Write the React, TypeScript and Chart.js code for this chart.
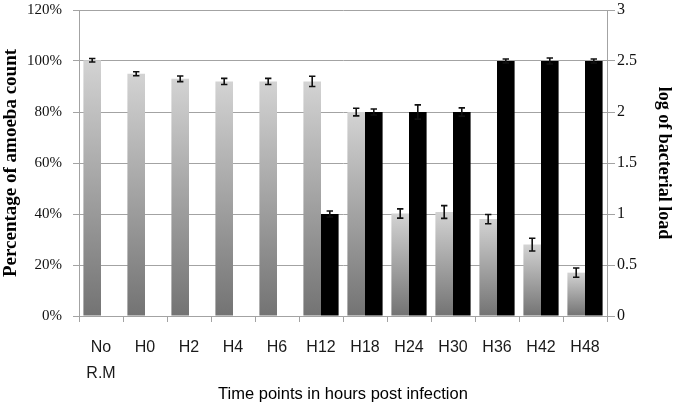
import React, { useEffect, useRef } from "react";
import { Chart, registerables } from "chart.js";

Chart.register(...registerables);

const categories: (string | string[])[] = [
  ["No", "R.M"], "H0", "H2", "H4", "H6", "H12", "H18", "H24", "H30", "H36", "H42", "H48",
];
const amoebaPercent: number[] = [100.3, 95, 93, 92, 92, 92, 80, 40.2, 40.8, 38, 28, 17];
const amoebaError: number[] = [0.7, 0.8, 1.1, 1.2, 1.2, 2.0, 1.5, 1.8, 2.5, 1.8, 2.5, 1.8];
const bacterialLog: (number | null)[] = [null, null, null, null, null, 1.0, 2.0, 2.0, 2.0, 2.5, 2.5, 2.5];
const bacterialError: (number | null)[] = [null, null, null, null, null, 0.03, 0.03, 0.07, 0.04, 0.02, 0.03, 0.02];
const leftTicks: number[] = [0, 20, 40, 60, 80, 100, 120];
const rightTicks: number[] = [0, 0.5, 1, 1.5, 2, 2.5, 3];

const GRID = "#a3a3a3";
const SANS = "'Liberation Sans', Arial, sans-serif";
const SERIF = "'Liberation Serif', 'Times New Roman', serif";

const errorBarPlugin = {
  id: "errorBars",
  afterDatasetsDraw(chart: any) {
    const ctx = chart.ctx;
    chart.data.datasets.forEach((ds: any, i: number) => {
      const errs = ds.errors as (number | null)[];
      if (!errs) return;
      const meta = chart.getDatasetMeta(i);
      const scale = chart.scales[ds.yAxisID];
      meta.data.forEach((el: any, j: number) => {
        const v = ds.data[j];
        const e = errs[j];
        if (v == null || e == null) return;
        const x = el.x;
        const yTop = scale.getPixelForValue(v + e);
        const yBot = scale.getPixelForValue(v - e);
        const cap = 3.2;
        ctx.save();
        ctx.strokeStyle = "#111";
        ctx.lineWidth = 1.6;
        ctx.beginPath();
        ctx.moveTo(x, yTop);
        ctx.lineTo(x, yBot);
        ctx.moveTo(x - cap, yTop);
        ctx.lineTo(x + cap, yTop);
        ctx.moveTo(x - cap, yBot);
        ctx.lineTo(x + cap, yBot);
        ctx.stroke();
        ctx.restore();
      });
    });
  },
};

export default function App() {
  const ref = useRef<HTMLCanvasElement | null>(null);
  useEffect(() => {
    if (!ref.current) return;
    const chart = new Chart(ref.current, {
      type: "bar",
      data: {
        labels: categories,
        datasets: [
          {
            label: "Percentage of amoeba count",
            data: amoebaPercent,
            errors: amoebaError,
            yAxisID: "y",
            backgroundColor: (c: any) => {
              const ch = c.chart;
              if (!ch.chartArea || c.raw == null) return "#a8a8a8";
              const s = ch.scales.y;
              const y1 = s.getPixelForValue(c.raw);
              const y0 = s.getPixelForValue(0);
              const g = ch.ctx.createLinearGradient(0, y1, 0, y0);
              g.addColorStop(0, "#d3d3d3");
              g.addColorStop(1, "#737373");
              return g;
            },
            borderWidth: 0,
            categoryPercentage: 0.8,
            barPercentage: 1.0,
          } as any,
          {
            label: "log of bacterial load",
            data: bacterialLog,
            errors: bacterialError,
            yAxisID: "y1",
            backgroundColor: "#000000",
            borderWidth: 0,
            categoryPercentage: 0.8,
            barPercentage: 1.0,
          } as any,
        ],
      },
      options: {
        animation: false,
        responsive: false,
        maintainAspectRatio: false,
        layout: { padding: { top: 10, left: 0, right: 0, bottom: 0 } },
        plugins: { legend: { display: false }, tooltip: { enabled: false } },
        scales: {
          x: {
            grid: {
              offset: true,
              drawOnChartArea: false,
              drawTicks: true,
              tickLength: 6,
              color: GRID,
            },
            border: { color: GRID },
            ticks: {
              color: "#1a1a1a",
              padding: 13,
              font: { family: SANS, size: 16, lineHeight: 1.6 },
              maxRotation: 0,
              autoSkip: false,
            },
            title: {
              display: true,
              text: "Time points in hours post infection",
              color: "#000",
              font: { family: SANS, size: 16.5, lineHeight: 0.9 },
              padding: { top: 0, bottom: 0 },
            },
            afterFit(s: any) {
              s.height = 86;
              s.paddingLeft = 0;
              s.paddingRight = 0;
            },
          },
          y: {
            position: "left",
            min: 0,
            max: 120,
            afterBuildTicks(s: any) {
              s.ticks = leftTicks.map((v) => ({ value: v }));
            },
            grid: { color: GRID, tickLength: 6, lineWidth: 1 },
            border: { color: GRID },
            ticks: {
              color: "#111",
              padding: 11,
              font: { family: SERIF, size: 15 },
              callback: (v: any) => `${v}%`,
            },
            title: {
              display: true,
              text: "Percentage of amoeba count",
              color: "#000",
              font: { family: SERIF, size: 19, weight: "bold", lineHeight: 1.15 },
              padding: { top: 0, bottom: 0 },
            },
            afterFit(s: any) {
              s.width = 79;
              s.paddingTop = 0;
              s.paddingBottom = 0;
            },
          },
          y1: {
            position: "right",
            min: 0,
            max: 3,
            afterBuildTicks(s: any) {
              s.ticks = rightTicks.map((v) => ({ value: v }));
            },
            grid: { drawOnChartArea: false, color: GRID, tickLength: 8 },
            border: { color: GRID },
            ticks: {
              color: "#111",
              padding: 2,
              font: { family: SERIF, size: 16 },
              callback: (v: any) => `${v}`,
            },
            title: {
              display: true,
              text: "log of bacterial load",
              color: "#000",
              font: { family: SERIF, size: 18, weight: "bold", lineHeight: 1.2 },
              padding: { top: 6, bottom: 0 },
            },
            afterFit(s: any) {
              s.width = 73;
              s.paddingTop = 0;
              s.paddingBottom = 0;
            },
          },
        },
      } as any,
      plugins: [errorBarPlugin],
    });
    return () => chart.destroy();
  }, []);
  return (
    <div style={{ position: "fixed", left: 0, top: 0, width: 680, height: 402, background: "#fff" }}>
      <canvas ref={ref} width={680} height={402} style={{ width: 680, height: 402 }} />
    </div>
  );
}
